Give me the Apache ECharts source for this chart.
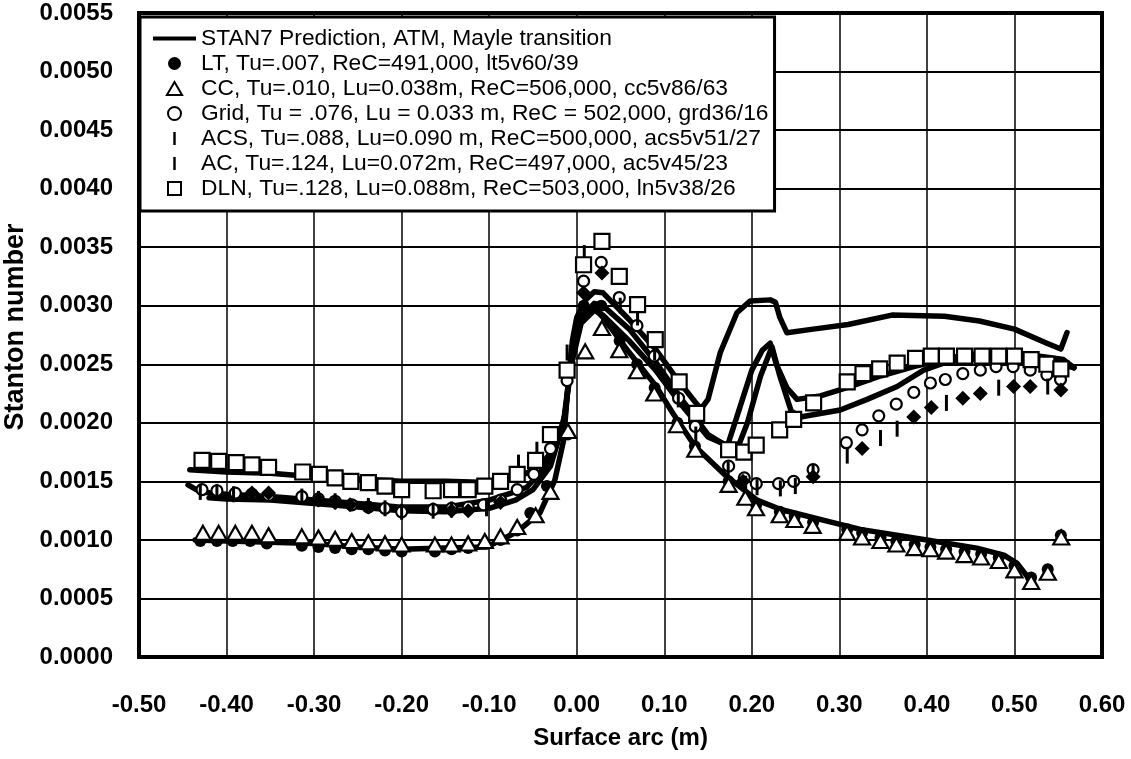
<!DOCTYPE html>
<html>
<head>
<meta charset="utf-8">
<script src="https://cdn.jsdelivr.net/npm/echarts@6/dist/echarts.min.js"></script>
<style>
  html, body { margin: 0; padding: 0; background: #fff; }
  #chart { width: 1131px; height: 759px; }
</style>
</head>
<body>
<div id="chart"></div>
<script>
// ---- data (surface arc m, Stanton number) ----
const lineName = 'STAN7 Prediction, ATM, Mayle transition';

const stanHigh = [[-0.442,0.00160],[-0.40,0.00158],[-0.35,0.00157],[-0.30,0.00154],[-0.25,0.00152],[-0.20,0.00150],[-0.15,0.00150],[-0.10,0.00149],[-0.075,0.00152],[-0.057,0.00157],[-0.04,0.00165],[-0.03,0.00174],[-0.02,0.00190],[-0.015,0.00200],[-0.009,0.00237],[-0.005,0.00270],[0.0,0.00290],[0.01,0.00305],[0.02,0.00312],[0.03,0.00311],[0.06,0.00288],[0.09,0.00263],[0.115,0.00237],[0.135,0.00218],[0.142,0.00212],[0.15,0.00220],[0.164,0.00260],[0.183,0.00294],[0.198,0.00304],[0.221,0.00305],[0.227,0.00303],[0.232,0.00290],[0.24,0.00277],[0.27,0.00280],[0.31,0.00284],[0.36,0.00292],[0.42,0.00291],[0.46,0.00287],[0.50,0.00280],[0.537,0.00268],[0.553,0.00263],[0.56,0.00277]];
const stanMidA = [[-0.444,0.00147],[-0.43,0.00141],[-0.40,0.00139],[-0.35,0.00137],[-0.30,0.00134],[-0.25,0.00131],[-0.20,0.00128],[-0.15,0.00128],[-0.10,0.00134],[-0.075,0.00140],[-0.057,0.00145],[-0.03,0.00168],[-0.02,0.00190],[-0.013,0.00208],[-0.006,0.00260],[0.005,0.00290],[0.02,0.00302],[0.03,0.00300],[0.06,0.00280],[0.09,0.00252],[0.118,0.00222],[0.15,0.00190],[0.172,0.00180],[0.185,0.00210],[0.20,0.00245],[0.212,0.00262],[0.221,0.00268],[0.228,0.00250],[0.24,0.00230],[0.2517,0.00220],[0.2783,0.00223],[0.3088,0.00230],[0.3469,0.00240],[0.385,0.00248],[0.4078,0.00252],[0.442,0.00258],[0.48,0.00260],[0.518,0.00258],[0.556,0.00254],[0.568,0.00247]];
const stanMidB = [[-0.42,0.00136],[-0.40,0.00135],[-0.35,0.00134],[-0.30,0.00131],[-0.25,0.00128],[-0.20,0.00125],[-0.15,0.00124],[-0.10,0.00127],[-0.07,0.00134],[-0.05,0.00143],[-0.03,0.00163],[-0.015,0.00200],[-0.006,0.00250],[0.005,0.00285],[0.02,0.00296],[0.03,0.00292],[0.06,0.00270],[0.09,0.00245],[0.12,0.00215],[0.15,0.00188],[0.183,0.00177],[0.195,0.00200],[0.21,0.00240],[0.223,0.00265],[0.232,0.00240],[0.245,0.00210],[0.2554,0.00205],[0.301,0.00211],[0.3317,0.00220],[0.366,0.00231],[0.3963,0.00245],[0.423,0.00252],[0.461,0.00255],[0.499,0.00257],[0.537,0.00254],[0.568,0.00247]];
const stanLam = [[-0.436,0.00100],[-0.40,0.00099],[-0.35,0.00098],[-0.30,0.00097],[-0.25,0.00094],[-0.20,0.00092],[-0.15,0.00093],[-0.1026,0.00094],[-0.068,0.00107],[-0.042,0.00123],[-0.025,0.00151],[-0.015,0.00185],[-0.0094,0.00237],[-0.004,0.00270],[0.005,0.00290],[0.02,0.00298],[0.03,0.00290],[0.06,0.00260],[0.09,0.00232],[0.11,0.00208],[0.135,0.00180],[0.17,0.00155],[0.206,0.00134],[0.233,0.00126],[0.286,0.00116],[0.324,0.00109],[0.40,0.00100],[0.457,0.00093],[0.488,0.00087],[0.503,0.00080],[0.5145,0.00069]];

const ltData = [[-0.430,0.00099],[-0.411,0.00099],[-0.393,0.00099],[-0.373,0.00099],[-0.354,0.00097],[-0.314,0.00095],[-0.295,0.00094],[-0.276,0.00093],[-0.257,0.00092],[-0.238,0.00092],[-0.219,0.00091],[-0.200,0.00090],[-0.162,0.00090],[-0.143,0.00092],[-0.124,0.00093],[-0.105,0.00097],[-0.087,0.00100],[-0.068,0.00108],[-0.053,0.00123],[-0.034,0.00146],[-0.010,0.00190],[0.008,0.00300],[0.028,0.00300],[0.049,0.00270],[0.069,0.00250],[0.089,0.00230],[0.115,0.00200],[0.135,0.00180],[0.1735,0.00150],[0.205,0.00130],[0.232,0.00124],[0.249,0.00120],[0.270,0.00115],[0.309,0.00109],[0.326,0.00106],[0.347,0.00102],[0.365,0.00099],[0.386,0.00096],[0.404,0.00094],[0.422,0.00092],[0.443,0.00090],[0.462,0.00088],[0.482,0.00085],[0.500,0.00078],[0.519,0.00068],[0.538,0.00075],[0.553,0.00104]];
const ccData = [[-0.427,0.00106],[-0.409,0.00106],[-0.390,0.00106],[-0.371,0.00106],[-0.352,0.00104],[-0.314,0.00103],[-0.295,0.00102],[-0.276,0.00101],[-0.257,0.00099],[-0.238,0.00098],[-0.219,0.00097],[-0.200,0.00096],[-0.162,0.00096],[-0.143,0.00096],[-0.124,0.00097],[-0.105,0.00099],[-0.087,0.00103],[-0.068,0.00111],[-0.047,0.00121],[-0.030,0.00141],[-0.010,0.00193],[0.0097,0.00261],[0.0288,0.00281],[0.0486,0.00262],[0.0688,0.00244],[0.0886,0.00225],[0.1145,0.00198],[0.1354,0.00177],[0.1735,0.00147],[0.1926,0.00136],[0.2048,0.00127],[0.2318,0.00121],[0.2486,0.00117],[0.2695,0.00112],[0.3088,0.00106],[0.3259,0.00102],[0.3469,0.00099],[0.3651,0.00096],[0.3857,0.00093],[0.4040,0.00092],[0.4219,0.00090],[0.4429,0.00087],[0.4619,0.00085],[0.4821,0.00082],[0.5000,0.00074],[0.5191,0.00064],[0.5381,0.00072],[0.5534,0.00102]];
const gridData = [[-0.428,0.00143],[-0.411,0.00142],[-0.390,0.00140],[-0.371,0.00139],[-0.352,0.00138],[-0.314,0.00137],[-0.295,0.00135],[-0.276,0.00133],[-0.257,0.00130],[-0.238,0.00128],[-0.219,0.00127],[-0.200,0.00124],[-0.164,0.00126],[-0.143,0.00127],[-0.124,0.00128],[-0.1065,0.00130],[-0.087,0.00134],[-0.068,0.00143],[-0.049,0.00156],[-0.030,0.00178],[-0.011,0.00236],[0.0078,0.00321],[0.028,0.00337],[0.0486,0.00307],[0.0688,0.00283],[0.0886,0.00257],[0.1163,0.00221],[0.1354,0.00197],[0.1735,0.00163],[0.1914,0.00153],[0.2051,0.00148],[0.2306,0.00148],[0.2478,0.00150],[0.270,0.00160],[0.308,0.00183],[0.326,0.00194],[0.345,0.00206],[0.365,0.00216],[0.385,0.00226],[0.404,0.00234],[0.421,0.00237],[0.441,0.00242],[0.461,0.00245],[0.479,0.00248],[0.4985,0.00248],[0.518,0.00245],[0.537,0.00241],[0.5526,0.00237]];
const acsData = [[-0.430,0.00141],[-0.411,0.00141],[-0.392,0.00139],[-0.314,0.00137],[-0.295,0.00135],[-0.276,0.00133],[-0.238,0.00129],[-0.219,0.00127],[-0.200,0.00124],[-0.164,0.00125],[-0.143,0.00126],[-0.103,0.00127],[-0.0665,0.00166],[-0.0455,0.00177],[-0.011,0.00260],[0.0086,0.00345],[0.0497,0.00300],[0.0695,0.00290],[0.089,0.00260],[0.116,0.00220],[0.136,0.00190],[0.173,0.00160],[0.193,0.00148],[0.206,0.00145],[0.2326,0.00144],[0.2497,0.00146],[0.270,0.00158],[0.309,0.00172],[0.347,0.00187],[0.366,0.00195],[0.4223,0.00217],[0.482,0.00230],[0.538,0.00231]];
const acData = [[-0.371,0.00140],[-0.352,0.00140],[-0.295,0.00134],[-0.276,0.00132],[-0.259,0.00130],[-0.238,0.00128],[-0.143,0.00125],[-0.124,0.00125],[-0.087,0.00132],[0.0078,0.00311],[0.0288,0.00328],[0.190,0.00150],[0.270,0.00154],[0.326,0.00178],[0.385,0.00205],[0.405,0.00213],[0.441,0.00221],[0.461,0.00225],[0.499,0.00231],[0.518,0.00231],[0.553,0.00228]];
const dlnData = [[-0.428,0.00168],[-0.409,0.00167],[-0.389,0.00166],[-0.371,0.00164],[-0.352,0.00162],[-0.313,0.00158],[-0.294,0.00156],[-0.276,0.00153],[-0.258,0.00150],[-0.238,0.00149],[-0.219,0.00146],[-0.200,0.00143],[-0.164,0.00142],[-0.143,0.00143],[-0.124,0.00143],[-0.105,0.00146],[-0.087,0.00150],[-0.068,0.00156],[-0.047,0.00168],[-0.030,0.00190],[-0.011,0.00245],[0.0078,0.00335],[0.0288,0.00355],[0.0486,0.00325],[0.0695,0.00301],[0.0897,0.00271],[0.117,0.00235],[0.137,0.00208],[0.1735,0.00177],[0.191,0.00175],[0.205,0.00181],[0.2318,0.00194],[0.2478,0.00203],[0.2706,0.00217],[0.309,0.00235],[0.327,0.00242],[0.346,0.00246],[0.366,0.00251],[0.387,0.00255],[0.405,0.00257],[0.4223,0.00257],[0.443,0.00257],[0.463,0.00257],[0.482,0.00257],[0.500,0.00257],[0.519,0.00254],[0.537,0.00250],[0.553,0.00246]];

const stanLines = [stanHigh, stanMidA, stanMidB, stanLam];

const xMin = -0.5, xMax = 0.6, xStep = 0.1;
const yMin = 0, yMax = 0.0055, yStep = 0.0005;

const font = '"Liberation Sans", Arial, Helvetica, sans-serif';
const barIcon = 'path://M0,0h3v16h-3z';
const openStyle = { color: '#fff', borderColor: '#000', borderWidth: 2.2, opacity: 1 };
const solidStyle = { color: '#000', opacity: 1 };

const chart = echarts.init(document.getElementById('chart'), null, { renderer: 'canvas' });

const series = stanLines.map((d) => ({
  name: lineName,
  type: 'line',
  data: d,
  symbol: 'none',
  showSymbol: false,
  lineStyle: { color: '#000', width: 5.5, opacity: 1, join: 'round', cap: 'round' },
  itemStyle: { color: '#000' },
  z: 2,
}));

// legend icons: paths keep their aspect, built-in shapes would stretch
const markers = [
  { name: 'LT, Tu=.007, ReC=491,000, lt5v60/39', data: ltData, symbol: 'circle', symbolSize: 12, itemStyle: solidStyle,
    icon: 'path://M5,0A5,5 0 1 1 4.99,0Z' },
  { name: 'CC, Tu=.010, Lu=0.038m, ReC=506,000, cc5v86/63', data: ccData, symbol: 'triangle', symbolSize: [16, 14], itemStyle: openStyle,
    icon: 'path://M7,0L14,12H0Z' },
  { name: 'Grid, Tu = .076, Lu = 0.033 m, ReC = 502,000, grd36/16', data: gridData, symbol: 'circle', symbolSize: 11, itemStyle: openStyle,
    icon: 'path://M5,0A5,5 0 1 1 4.99,0Z' },
  { name: 'ACS, Tu=.088, Lu=0.090 m, ReC=500,000, acs5v51/27', data: acsData, symbol: barIcon, symbolSize: [3, 16], itemStyle: solidStyle,
    icon: barIcon },
  { name: 'AC, Tu=.124, Lu=0.072m, ReC=497,000, ac5v45/23', data: acData, symbol: 'diamond', symbolSize: 15, itemStyle: solidStyle,
    icon: barIcon },
  { name: 'DLN, Tu=.128, Lu=0.088m, ReC=503,000, ln5v38/26', data: dlnData, symbol: 'rect', symbolSize: 15, itemStyle: openStyle,
    icon: 'path://M0,0h12v12h-12z' },
];
markers.forEach((m, i) => series.push({
  type: 'scatter', z: 3 + i, name: m.name, data: m.data,
  symbol: m.symbol, symbolSize: m.symbolSize, itemStyle: m.itemStyle,
}));

const legendData = [{ name: lineName, icon: 'path://M0,0h43v4h-43z' }]
  .concat(markers.map((m) => ({ name: m.name, icon: m.icon })));

chart.setOption({
  animation: false,
  grid: {
    left: 139, right: 29, top: 13, bottom: 102,
    show: true, borderColor: '#000', borderWidth: 4,
    outerBoundsMode: 'none',
  },
  legend: {
    data: legendData,
    orient: 'vertical',
    left: 140, top: 17,
    itemWidth: 43, itemHeight: 13, itemGap: 0,
    padding: [9, 6, 10, 13],
    backgroundColor: '#fff',
    borderColor: '#000', borderWidth: 3,
    selectedMode: false,
    symbolKeepAspect: true,
    textStyle: { fontFamily: font, fontSize: 22.8, color: '#000', lineHeight: 25 },
  },
  xAxis: {
    type: 'value', min: xMin, max: xMax, interval: xStep,
    name: 'Surface arc (m)', nameLocation: 'middle', nameGap: 69,
    nameTextStyle: { fontFamily: font, fontSize: 24, fontWeight: 'bold', color: '#000' },
    axisLine: { show: true, onZero: false, lineStyle: { color: '#000', width: 4 } },
    axisTick: { show: false },
    axisLabel: { margin: 36, fontFamily: font, fontSize: 24, fontWeight: 'bold', color: '#000',
      formatter: (v) => v.toFixed(2) },
    splitLine: { show: true, lineStyle: { color: '#000', width: 1.5 } },
  },
  yAxis: {
    type: 'value', min: yMin, max: yMax, interval: yStep,
    name: 'Stanton number', nameLocation: 'middle', nameGap: 98,
    nameTextStyle: { fontFamily: font, fontSize: 27, fontWeight: 'bold', color: '#000', padding: [0, 0, 0, 16] },
    axisLine: { show: true, onZero: false, lineStyle: { color: '#000', width: 4 } },
    axisTick: { show: false },
    axisLabel: { margin: 26, fontFamily: font, fontSize: 24, fontWeight: 'bold', color: '#000',
      formatter: (v) => v.toFixed(4) },
    splitLine: { show: true, lineStyle: { color: '#000', width: 2 } },
  },
  series: series,
});
</script>
</body>
</html>
